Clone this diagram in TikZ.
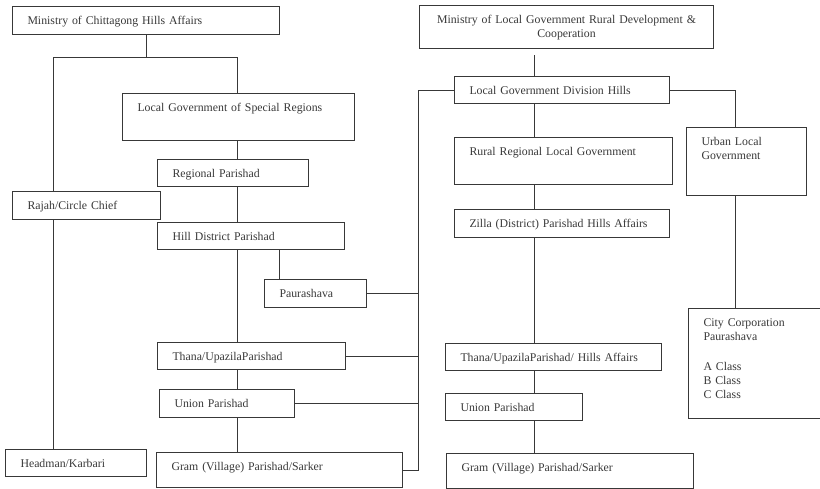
\documentclass[tikz,border=0pt]{standalone}
\usepackage{fontspec}
\setmainfont{Liberation Serif}
\usetikzlibrary{positioning, calc}

\tikzset{
  unit/.style={draw, anchor=north west, align=left, inner xsep=15pt, inner ysep=0pt,
    text height=18pt, text depth=9pt},
}

\begin{document}
\begin{tikzpicture}[x=1pt, y=-1pt, line width=1pt, color=black!78,
    font=\fontsize{11.8pt}{14pt}\selectfont]
  \path[use as bounding box, clip] (0,0) rectangle (820,488);

  % left side
  \node[unit, text width=237pt, text depth=10pt] (mcha) at (12,6) {Ministry of Chittagong Hills Affairs};
  \node[unit, text width=202pt, text depth=29pt] (lgsr) at (122,93) {Local Government of Special Regions};
  \node[unit, text width=121pt] (rp) at (157,159) {Regional Parishad};
  \node[unit, text width=118pt, text depth=10pt] (rajah) at (12,191) {Rajah/Circle Chief};
  \node[unit, text width=157pt] (hdp) at (157,222) {Hill District Parishad};
  \node[unit, text width=72pt, text depth=10pt] (paura) at (264,279) {Paurashava};
  \node[unit, text width=158pt] (thanaL) at (157,342) {Thana/UpazilaParishad};
  \node[unit, text width=105pt, text depth=10pt] (unionL) at (159,389) {Union Parishad};
  \node[unit, text width=216pt, text depth=17pt] (gramL) at (156,452) {Gram (Village) Parishad/Sarker};
  \node[unit, text width=111pt] (headman) at (5,449) {Headman/Karbari};

  % right side
  \node[unit, align=center, inner xsep=7pt, text width=280pt, text depth=25pt] (mlg) at (419,5)
    {Ministry of Local Government Rural Development \&\\Cooperation};
  \node[unit, text width=185pt] (lgdh) at (454,76) {Local Government Division Hills};
  \node[unit, text width=188pt, text depth=29pt] (rural) at (454,137) {Rural Regional Local Government};
  \node[unit, text width=185pt, text depth=10pt] (zilla) at (454,209) {Zilla (District) Parishad Hills Affairs};
  \node[unit, text width=90pt, text depth=50pt] (urban) at (686,127) {Urban Local\\Government};
  \node[unit, text width=186pt] (thanaR) at (445,343) {Thana/UpazilaParishad/ Hills Affairs};
  \node[unit, text width=107pt] (unionR) at (445,393) {Union Parishad};
  \node[unit, text width=217pt, text depth=17pt] (gramR) at (446,453) {Gram (Village) Parishad/Sarker};
  \node[unit, text width=110pt, text depth=92pt] (city) at (688,308)
    {City Corporation\\Paurashava\\[16pt]A Class\\B Class\\C Class};

  \coordinate (sl) at (53,57);
  \coordinate (sr) at (237,57);
  \coordinate (pv) at (279,0);
  \coordinate (bus) at (418,0);
  \coordinate (mv) at (534,0);
  \coordinate (uv) at (735,0);

  \draw (mcha.south) -- (mcha.south |- sl);
  \draw (rajah.north -| sl) -- (sl) -- (sr) -- (lgsr.north -| sr);
  \draw (rajah.south -| sl) -- (headman.north -| sl);
  \foreach \a/\b in {lgsr/rp, rp/hdp, hdp/thanaL, thanaL/unionL, unionL/gramL}
    \draw (\a.south -| sr) -- (\b.north -| sr);
  \draw (hdp.south -| pv) -- (paura.north -| pv);

  \draw (lgdh.west) -| (gramL.east -| bus) -- (gramL.east);
  \foreach \n in {paura, thanaL, unionL}
    \draw (\n.east) -- (\n.east -| bus);

  \draw[shorten <=6pt] (mlg.south -| mv) -- (lgdh.north -| mv);
  \foreach \a/\b in {lgdh/rural, rural/zilla, zilla/thanaR, thanaR/unionR, unionR/gramR}
    \draw (\a.south -| mv) -- (\b.north -| mv);
  \draw (lgdh.east) -| (urban.north -| uv);
  \draw (urban.south -| uv) -- (city.north -| uv);
\end{tikzpicture}
\end{document}
